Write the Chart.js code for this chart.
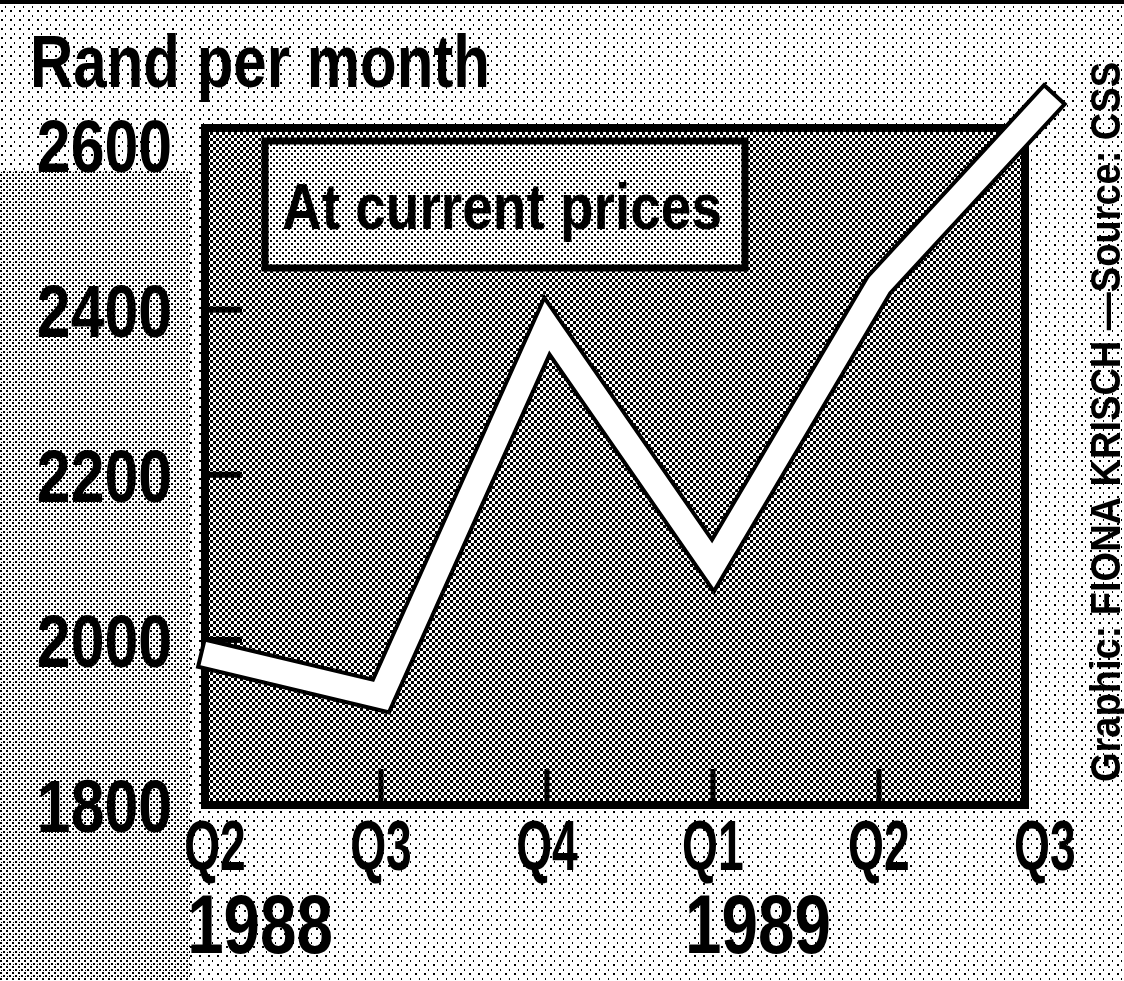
<!DOCTYPE html>
<html><head><meta charset="utf-8">
<script src="https://cdn.jsdelivr.net/npm/chart.js@4.4.1/dist/chart.umd.min.js"></script>
<style>html,body{margin:0;padding:0;background:#fff;overflow:hidden}canvas{display:block}</style>
</head><body>
<canvas id="c" width="1124" height="981"></canvas>
<script>
// ---- data ----
const quarters = ['Q2', 'Q3', 'Q4', 'Q1', 'Q2', 'Q3'];
const years = ['1988', '', '', '1989', '', ''];
const randPerMonth = [1980, 1932, 2380, 2090, 2430, 2648];
const yTicks = [1800, 2000, 2200, 2400, 2600];
const yTickLabels = ['1800', '2000', '2200', '2400', '2600'];
const innerYTicks = [2000, 2200, 2400];
const innerXTicks = [1, 2, 3, 4];
const titleText = 'Rand per month';
const boxText = 'At current prices';
const creditText = 'Graphic: FIONA KRISCH \u2014Source: CSS';

const FONT = '"Liberation Sans", Arial, sans-serif';

function makePattern(ctx, size, dots) {
  const c = document.createElement('canvas');
  c.width = size; c.height = size;
  const g = c.getContext('2d');
  g.fillStyle = '#fff'; g.fillRect(0, 0, size, size);
  g.fillStyle = '#000';
  dots.forEach(d => g.fillRect(d[0], d[1], d[2], d[3]));
  return ctx.createPattern(c, 'repeat');
}

function drawScaled(ctx, text, x, y, size, weight, sx, align) {
  ctx.save();
  ctx.font = weight + ' ' + size + 'px ' + FONT;
  ctx.translate(x, y);
  ctx.scale(sx, 1);
  ctx.textAlign = align;
  ctx.textBaseline = 'alphabetic';
  ctx.fillStyle = '#000';
  ctx.fillText(text, 0, 0);
  ctx.restore();
}
function fitScale(ctx, text, size, weight, target) {
  ctx.save();
  ctx.font = weight + ' ' + size + 'px ' + FONT;
  const w = ctx.measureText(text).width;
  ctx.restore();
  return target / w;
}

const decor = {
  id: 'decor',
  beforeDraw(chart) {
    const ctx = chart.ctx;
    const W = chart.width, H = chart.height;
    ctx.save();
    ctx.fillStyle = '#fff';
    ctx.fillRect(0, 0, W, H);
    ctx.fillStyle = makePattern(ctx, 9, [[1, 1, 2, 2], [5, 6, 1, 2]]);
    ctx.fillRect(0, 0, W, H);
    ctx.fillStyle = makePattern(ctx, 6, [[0, 0, 2, 2], [3, 3, 2, 2], [1, 4, 1, 1]]);
    ctx.fillRect(0, 170, 190, H - 170);
    ctx.fillStyle = '#000';
    ctx.fillRect(0, 0, W, 4);
    ctx.restore();
  },
  beforeDatasetsDraw(chart) {
    const ctx = chart.ctx;
    const a = chart.chartArea;
    const xs = chart.scales.x, ys = chart.scales.y;
    ctx.save();
    // plot area halftone
    ctx.fillStyle = makePattern(ctx, 6, [[0, 0, 3, 3], [3, 3, 3, 3]]);
    ctx.fillRect(a.left, a.top, a.right - a.left, a.bottom - a.top);
    // label box
    ctx.fillStyle = makePattern(ctx, 6, [[0, 0, 2, 2], [3, 3, 2, 2]]);
    ctx.fillRect(265, 141, 480, 127);
    ctx.lineWidth = 7;
    ctx.strokeStyle = '#000';
    ctx.strokeRect(265, 141, 480, 127);
    // plot frame
    ctx.lineWidth = 8;
    ctx.strokeRect(a.left, a.top, a.right - a.left, a.bottom - a.top);
    // inner ticks
    ctx.fillStyle = '#000';
    innerYTicks.forEach(v => {
      const y = ys.getPixelForValue(v);
      ctx.fillRect(a.left, y - 3, 37, 6);
    });
    innerXTicks.forEach(v => {
      const x = xs.getPixelForValue(v);
      ctx.fillRect(x - 2.5, a.bottom - 36, 5, 36);
    });
    ctx.restore();
  },
  afterDraw(chart) {
    const ctx = chart.ctx;
    const xs = chart.scales.x, ys = chart.scales.y;
    // title
    const ts = fitScale(ctx, titleText, 74, 'bold', 460);
    drawScaled(ctx, titleText, 30, 87, 74, 'bold', ts, 'left');
    // box text
    const bs = fitScale(ctx, boxText, 64, 'bold', 440);
    drawScaled(ctx, boxText, 282, 229, 64, 'bold', bs, 'left');
    // y tick labels
    ys.ticks.forEach((t, i) => {
      const y = ys.getPixelForValue(t.value);
      drawScaled(ctx, yTickLabels[i], 172, y + 27, 75, 'bold', 0.81, 'right');
    });
    // x tick labels
    xs.ticks.forEach((t, i) => {
      const x = xs.getPixelForValue(t.value);
      const q = quarters[i];
      drawScaled(ctx, q, x, 870, 70, 'bold', 0.66, 'center');
      if (years[i]) {
        ctx.save();
        ctx.font = 'bold 70px ' + FONT;
        const qw = ctx.measureText(q).width * 0.66;
        ctx.restore();
        drawScaled(ctx, years[i], x - qw / 2 + 3, 953, 84, 'bold', 0.78, 'left');
      }
    });
    // vertical credit
    const cs = fitScale(ctx, creditText, 42, 'bold', 720);
    ctx.save();
    ctx.translate(1120, 782);
    ctx.rotate(-Math.PI / 2);
    ctx.scale(cs, 1);
    ctx.font = 'bold 42px ' + FONT;
    ctx.textAlign = 'left';
    ctx.textBaseline = 'alphabetic';
    ctx.fillStyle = '#000';
    ctx.fillText(creditText, 0, 0);
    ctx.restore();
  }
};

const points = randPerMonth.map((v, i) => ({ x: i, y: v }));

new Chart(document.getElementById('c').getContext('2d'), {
  type: 'line',
  data: {
    datasets: [
      { data: points, borderColor: '#fff', borderWidth: 24, borderCapStyle: 'square', borderJoinStyle: 'miter', pointRadius: 0, clip: false, fill: false },
      { data: points, borderColor: '#000', borderWidth: 32, borderCapStyle: 'square', borderJoinStyle: 'miter', pointRadius: 0, clip: false, fill: false }
    ]
  },
  options: {
    responsive: false,
    animation: false,
    devicePixelRatio: 1,
    layout: { padding: { left: 0, top: 128, right: 99, bottom: 176 } },
    plugins: { legend: { display: false }, tooltip: { enabled: false }, title: { display: false } },
    elements: { line: { tension: 0 } },
    scales: {
      x: {
        type: 'linear', min: -0.06, max: 4.88,
        grid: { display: false }, border: { display: false }, ticks: { display: false },
        afterBuildTicks: s => { s.ticks = quarters.map((q, i) => ({ value: i })); },
        afterFit: s => { s.height = 0; }
      },
      y: {
        type: 'linear', min: 1800, max: 2620,
        grid: { display: false }, border: { display: false }, ticks: { display: false },
        afterBuildTicks: s => { s.ticks = yTicks.map(v => ({ value: v })); },
        afterFit: s => { s.width = 205; }
      }
    }
  },
  plugins: [decor]
});
</script>
</body></html>
